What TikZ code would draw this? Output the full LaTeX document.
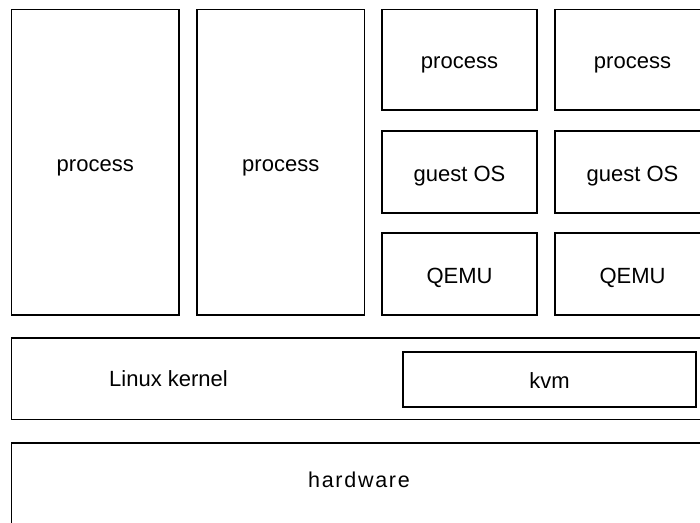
\documentclass[tikz,border=0pt]{standalone}
\usepackage{fontspec}
\setmainfont{Liberation Sans}
\begin{document}
\begin{tikzpicture}[x=1pt,y=-1pt,
  lbl/.style={font=\fontsize{22}{26}\selectfont, inner sep=0pt, text height=18pt, text depth=0pt},
  box/.style={draw, line width=1.3pt, inner sep=0pt, rectangle, lbl},
  hwfont/.style={font=\fontsize{21.5}{25}\selectfont\addfontfeature{LetterSpace=8}, inner sep=0pt, text height=18pt, text depth=0pt}]
\useasboundingbox (0,0) rectangle (700,522);
\clip (0,0) rectangle (700,522);
\node[box, minimum width=167.5pt, minimum height=305.5pt] (p1) at (95.25,162.25) {process};
\node[box, minimum width=167.5pt, minimum height=305.5pt] (p2) at (280.75,162.25) {process};
\node[box, minimum width=155pt, minimum height=100.5pt] (vp1) at (459.5,59.75) {process};
\node[box, minimum width=155pt, minimum height=100.5pt] (vp2) at (632.5,59.75) {process};
\node[box, minimum width=155pt, minimum height=82pt] (g1) at (459.5,172) {guest OS};
\node[box, minimum width=155pt, minimum height=82pt] (g2) at (632.5,172) {guest OS};
\node[box, minimum width=155pt, minimum height=82pt] (q1) at (459.5,274) {QEMU};
\node[box, minimum width=155pt, minimum height=82pt] (q2) at (632.5,274) {QEMU};
\node[box, minimum width=698.5pt, minimum height=81.5pt] (kern) at (360.75,378.75) {};
\node[lbl] (kernlbl) at (168.5,377.5) {Linux kernel};
\node[box, minimum width=293pt, minimum height=55pt] (kvm) at (549.5,379.5) {kvm};
\node[box, minimum width=698.5pt, minimum height=100pt] (hw) at (360.75,493) {};
\node[hwfont] (hwlbl) at (359,478) {hardware};
\end{tikzpicture}
\end{document}
